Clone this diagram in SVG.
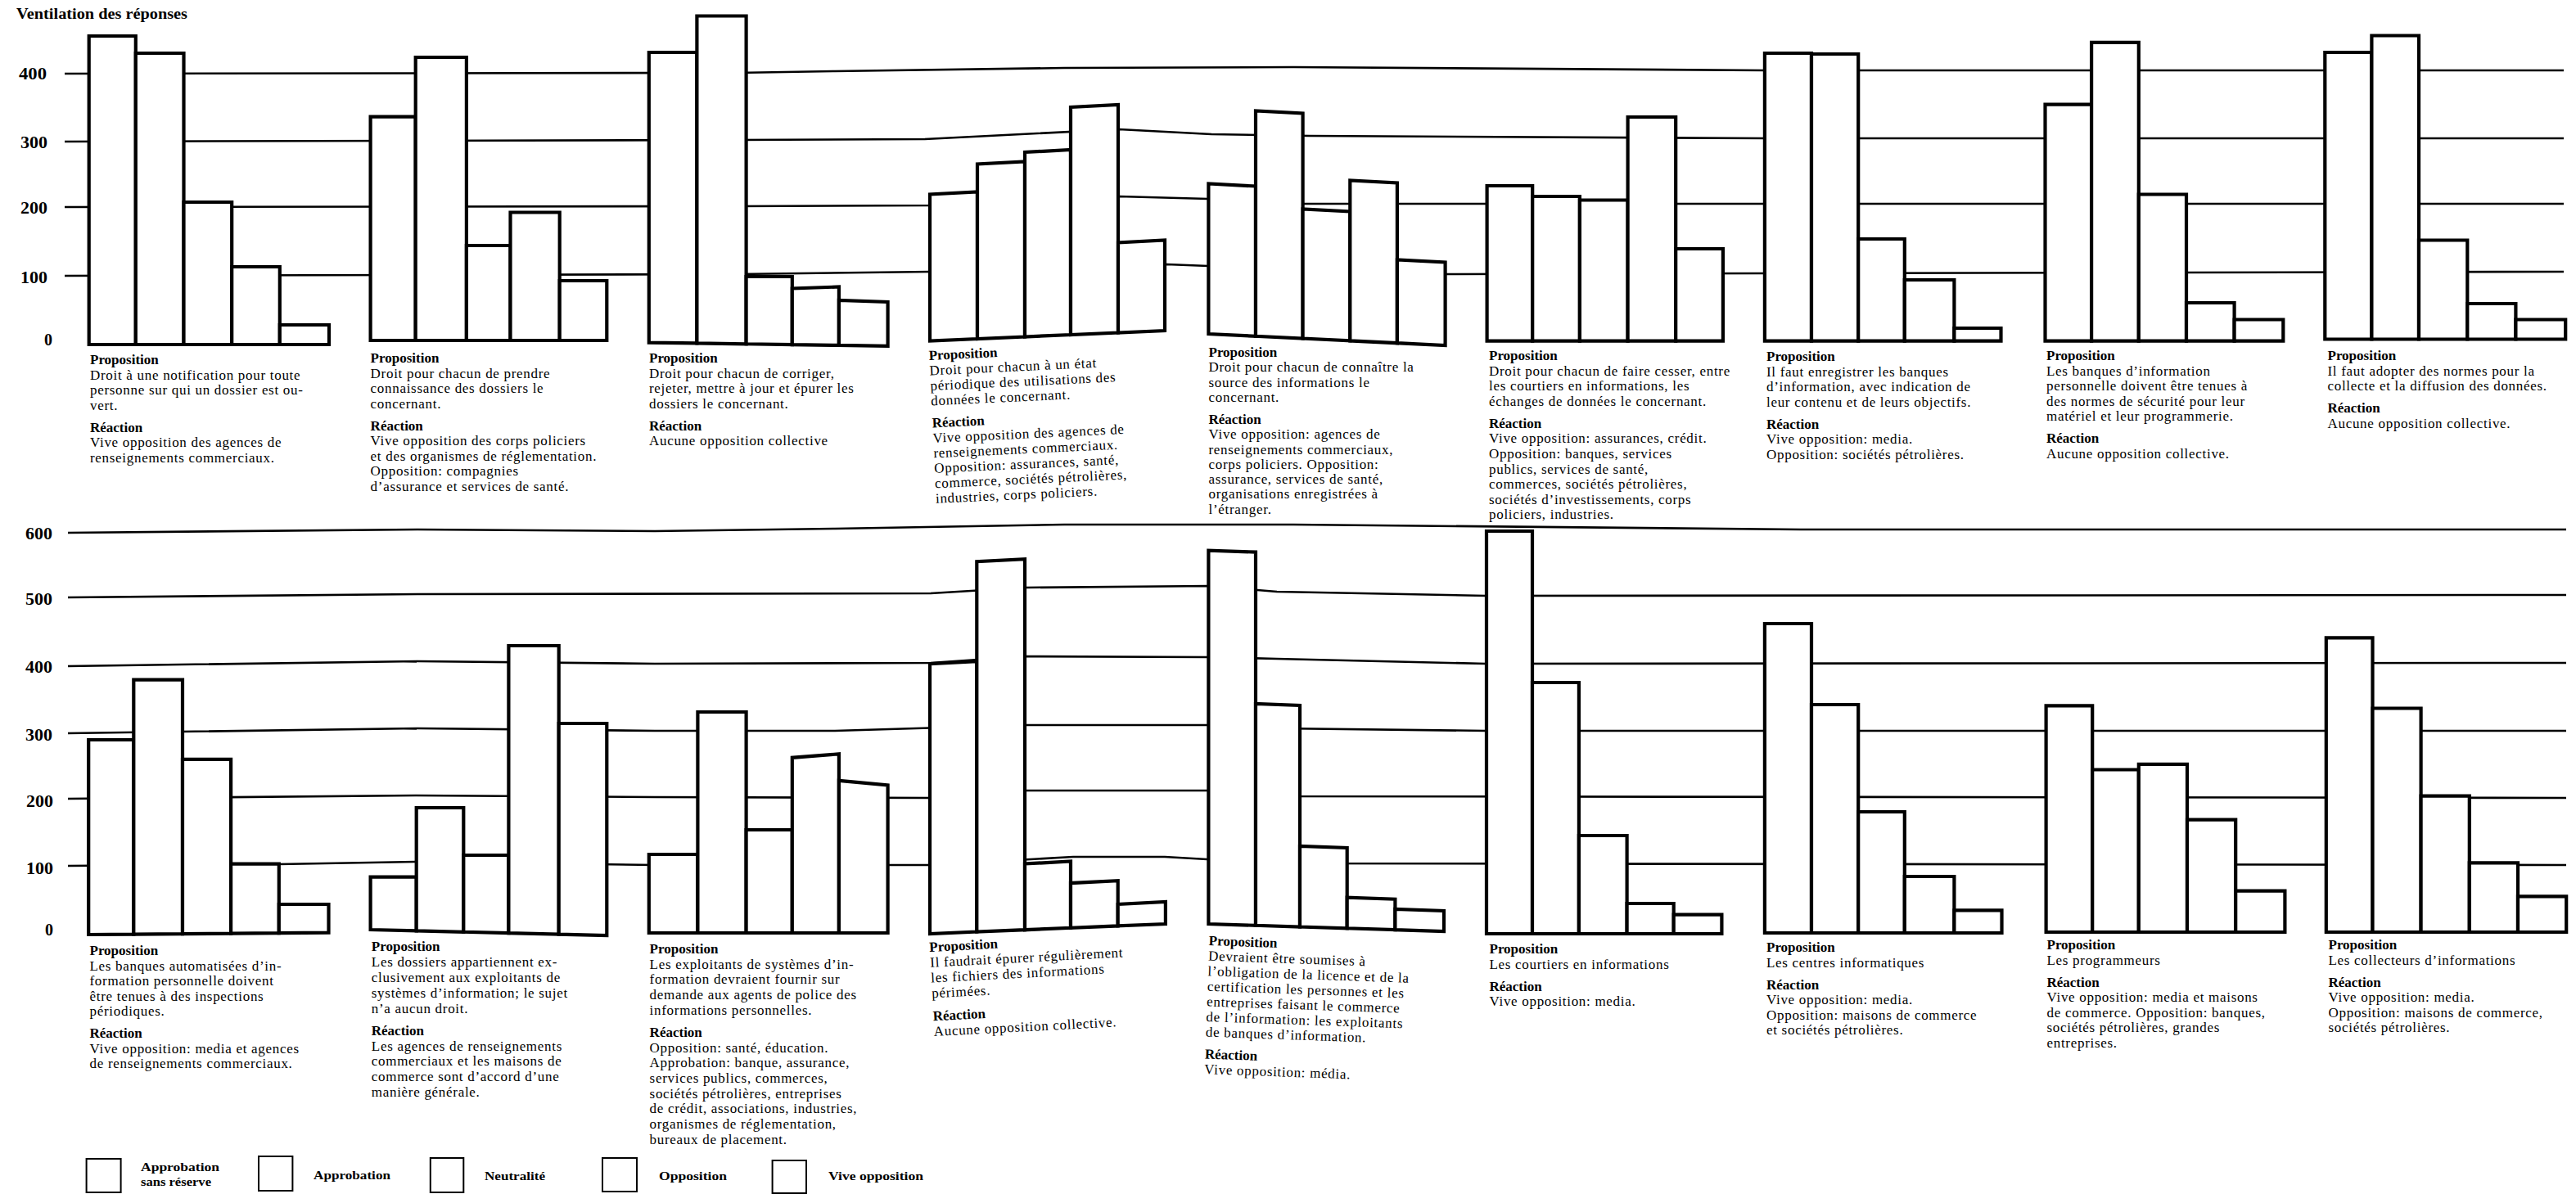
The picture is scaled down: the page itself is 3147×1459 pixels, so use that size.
<svg xmlns="http://www.w3.org/2000/svg" width="3147" height="1459" viewBox="0 0 3147 1459">
<style>
.bar{fill:#fff;stroke:#000;stroke-width:4.2;stroke-linejoin:miter}
.grid{fill:none;stroke:#000;stroke-width:2.6}
.ax{font-family:"Liberation Serif",serif;font-weight:bold;font-size:20px;text-anchor:end}
.ttl{font-family:"Liberation Serif",serif;font-weight:bold;font-size:18px}
.tx{font-family:"Liberation Serif",serif;font-size:17px;letter-spacing:0.7px}
.h{font-weight:bold;letter-spacing:0}
.lg{fill:#fff;stroke:#000;stroke-width:2}
.lt{font-family:"Liberation Serif",serif;font-weight:bold;font-size:15px}
</style>
<rect x="0" y="0" width="3147" height="1459" fill="#fff"/>
<text class="ttl" x="20" y="23" textLength="209" lengthAdjust="spacingAndGlyphs">Ventilation des réponses</text>

<g id="grid">
<path class="grid" d="M79,90 L900,89 L1020,87 L1300,83 L1580,82 L2156,86 L3132,86"/>
<path class="grid" d="M79,173 L900,171 L1130,170 L1367,158 L1480,164 L1600,166 L2156,169 L3132,169"/>
<path class="grid" d="M79,253 L900,252 L1137,251 L1367,240 L1476,243 L1590,249 L3132,249"/>
<path class="grid" d="M79,337 L900,335 L1137,332 L1425,323 L1476,325 L1590,333 L1765,335 L2156,334 L3132,332"/>
<path class="grid" d="M83,651 L510,647 L800,649 L1020,646 L1300,641 L1580,641 L2200,647 L3135,647"/>
<path class="grid" d="M83,730 L510,726 L1137,725 L1252,718 L1476,716 L1560,723 L1815,728 L3135,727"/>
<path class="grid" d="M83,814 L510,808 L800,811 L1137,810 L1252,802 L1476,803 L1560,805 L1815,811 L3135,810"/>
<path class="grid" d="M83,896 L510,890 L800,893 L1020,893 L1252,886 L1476,886 L1560,890 L1815,893 L3135,893"/>
<path class="grid" d="M83,976 L508,972 L800,974 L1137,975 L1252,966 L1476,966 L1560,973 L3135,975"/>
<path class="grid" d="M83,1058 L341,1056 L508,1053 L800,1057 L1137,1057 L1311,1047 L1423,1047 L1560,1055 L3135,1057"/>
</g>

<g id="axis-top">
<text class="ax" x="57" y="97" textLength="34" lengthAdjust="spacingAndGlyphs">400</text>
<text class="ax" x="58" y="181" textLength="33" lengthAdjust="spacingAndGlyphs">300</text>
<text class="ax" x="58" y="261" textLength="33" lengthAdjust="spacingAndGlyphs">200</text>
<text class="ax" x="58" y="346" textLength="33" lengthAdjust="spacingAndGlyphs">100</text>
<text class="ax" x="64" y="422">0</text>
</g>
<g id="axis-bottom">
<text class="ax" x="64" y="659" textLength="33" lengthAdjust="spacingAndGlyphs">600</text>
<text class="ax" x="64" y="739" textLength="33" lengthAdjust="spacingAndGlyphs">500</text>
<text class="ax" x="64" y="822" textLength="33" lengthAdjust="spacingAndGlyphs">400</text>
<text class="ax" x="64" y="905" textLength="33" lengthAdjust="spacingAndGlyphs">300</text>
<text class="ax" x="65" y="986" textLength="33" lengthAdjust="spacingAndGlyphs">200</text>
<text class="ax" x="65" y="1068" textLength="33" lengthAdjust="spacingAndGlyphs">100</text>
<text class="ax" x="65" y="1143">0</text>
</g>

<g id="chart-a1">
<polygon class="bar" points="108.7,421 108.7,44 165.8,44 165.8,421"/>
<polygon class="bar" points="165.8,421 165.8,65 224.5,65 224.5,421"/>
<polygon class="bar" points="224.5,421 224.5,247 283.2,247 283.2,421"/>
<polygon class="bar" points="283.2,421 283.2,326 341.8,326 341.8,421"/>
<polygon class="bar" points="341.8,421 341.8,397 402,397 402,421"/>
<text class="tx" transform="translate(110,445)"><tspan class="h" x="0" y="0">Proposition</tspan><tspan x="0" dy="18.5">Droit à une notification pour toute</tspan><tspan x="0" dy="18.5">personne sur qui un dossier est ou-</tspan><tspan x="0" dy="18.5">vert.</tspan><tspan class="h" x="0" dy="27">Réaction</tspan><tspan x="0" dy="18.5">Vive opposition des agences de</tspan><tspan x="0" dy="18.5">renseignements commerciaux.</tspan></text>
</g>

<g id="chart-a2">
<polygon class="bar" points="452.6,416 452.6,142.7 507.7,142.7 507.7,416"/>
<polygon class="bar" points="507.7,416 507.7,70 569.9,70 569.9,416"/>
<polygon class="bar" points="569.9,416 569.9,300 623.5,300 623.5,416"/>
<polygon class="bar" points="623.5,416 623.5,259.5 683.7,259.5 683.7,416"/>
<polygon class="bar" points="683.7,416 683.7,343 741.3,343 741.3,416"/>
<text class="tx" transform="translate(452.6,443)"><tspan class="h" x="0" y="0">Proposition</tspan><tspan x="0" dy="18.5">Droit pour chacun de prendre</tspan><tspan x="0" dy="18.5">connaissance des dossiers le</tspan><tspan x="0" dy="18.5">concernant.</tspan><tspan class="h" x="0" dy="27">Réaction</tspan><tspan x="0" dy="18.5">Vive opposition des corps policiers</tspan><tspan x="0" dy="18.5">et des organismes de réglementation.</tspan><tspan x="0" dy="18.5">Opposition: compagnies</tspan><tspan x="0" dy="18.5">d’assurance et services de santé.</tspan></text>
</g>

<g id="chart-a3">
<polygon class="bar" points="792.8,418.6 792.8,64 851.4,64 851.4,419.4"/>
<polygon class="bar" points="851.4,419.4 851.4,19.5 911.6,19.5 911.6,420.3"/>
<polygon class="bar" points="911.6,420.3 911.6,338 967.8,338 967.8,421.1"/>
<polygon class="bar" points="967.8,421.1 967.8,352.5 1024.9,350.5 1024.9,421.9"/>
<polygon class="bar" points="1024.9,421.9 1024.9,367 1084.6,369 1084.6,422.8"/>
<text class="tx" transform="translate(793,443)"><tspan class="h" x="0" y="0">Proposition</tspan><tspan x="0" dy="18.5">Droit pour chacun de corriger,</tspan><tspan x="0" dy="18.5">rejeter, mettre à jour et épurer les</tspan><tspan x="0" dy="18.5">dossiers le concernant.</tspan><tspan class="h" x="0" dy="27">Réaction</tspan><tspan x="0" dy="18.5">Aucune opposition collective</tspan></text>
</g>

<g id="chart-a4">
<polygon class="bar" points="1136,416.6 1136,237.5 1194,234.5 1194,414.1"/>
<polygon class="bar" points="1194,414.1 1194,200.5 1252,197.5 1252,411.5"/>
<polygon class="bar" points="1252,411.5 1252,186 1308,183 1308,409"/>
<polygon class="bar" points="1308,409 1308,131 1366,128 1366,406.5"/>
<polygon class="bar" points="1366,406.5 1366,296.5 1423,293.5 1423,404"/>
<text class="tx" transform="translate(1135,440) rotate(-2.7)"><tspan class="h" x="0" y="0">Proposition</tspan><tspan x="0" dy="18.5">Droit pour chacun à un état</tspan><tspan x="0" dy="18.5">périodique des utilisations des</tspan><tspan x="0" dy="18.5">données le concernant.</tspan><tspan class="h" x="0" dy="27">Réaction</tspan><tspan x="0" dy="18.5">Vive opposition des agences de</tspan><tspan x="0" dy="18.5">renseignements commerciaux.</tspan><tspan x="0" dy="18.5">Opposition: assurances, santé,</tspan><tspan x="0" dy="18.5">commerce, sociétés pétrolières,</tspan><tspan x="0" dy="18.5">industries, corps policiers.</tspan></text>
</g>

<g id="chart-a5">
<polygon class="bar" points="1476.4,408 1476.4,224.5 1534,227.5 1534,410.8"/>
<polygon class="bar" points="1534,410.8 1534,135.5 1591.6,138.5 1591.6,413.6"/>
<polygon class="bar" points="1591.6,413.6 1591.6,255.5 1649.3,258.5 1649.3,416.4"/>
<polygon class="bar" points="1649.3,416.4 1649.3,220.5 1706.9,223.5 1706.9,419.2"/>
<polygon class="bar" points="1706.9,419.2 1706.9,317.5 1765.6,320.5 1765.6,422"/>
<text class="tx" transform="translate(1476.5,436)"><tspan class="h" x="0" y="0">Proposition</tspan><tspan x="0" dy="18.3">Droit pour chacun de connaître la</tspan><tspan x="0" dy="18.3">source des informations le</tspan><tspan x="0" dy="18.3">concernant.</tspan><tspan class="h" x="0" dy="27">Réaction</tspan><tspan x="0" dy="18.3">Vive opposition: agences de</tspan><tspan x="0" dy="18.3">renseignements commerciaux,</tspan><tspan x="0" dy="18.3">corps policiers. Opposition:</tspan><tspan x="0" dy="18.3">assurance, services de santé,</tspan><tspan x="0" dy="18.3">organisations enregistrées à</tspan><tspan x="0" dy="18.3">l’étranger.</tspan></text>
</g>

<g id="chart-a6">
<polygon class="bar" points="1816.6,416.6 1816.6,227 1872.2,227 1872.2,416.6"/>
<polygon class="bar" points="1872.2,416.6 1872.2,240 1929.9,240 1929.9,416.6"/>
<polygon class="bar" points="1929.9,416.6 1929.9,244.5 1988.6,244.5 1988.6,416.6"/>
<polygon class="bar" points="1988.6,416.6 1988.6,143 2047.2,143 2047.2,416.6"/>
<polygon class="bar" points="2047.2,416.6 2047.2,304 2104.9,304 2104.9,416.6"/>
<text class="tx" transform="translate(1819,440)"><tspan class="h" x="0" y="0">Proposition</tspan><tspan x="0" dy="18.6">Droit pour chacun de faire cesser, entre</tspan><tspan x="0" dy="18.6">les courtiers en informations, les</tspan><tspan x="0" dy="18.6">échanges de données le concernant.</tspan><tspan class="h" x="0" dy="27">Réaction</tspan><tspan x="0" dy="18.6">Vive opposition: assurances, crédit.</tspan><tspan x="0" dy="18.6">Opposition: banques, services</tspan><tspan x="0" dy="18.6">publics, services de santé,</tspan><tspan x="0" dy="18.6">commerces, sociétés pétrolières,</tspan><tspan x="0" dy="18.6">sociétés d’investissements, corps</tspan><tspan x="0" dy="18.6">policiers, industries.</tspan></text>
</g>

<g id="chart-a7">
<polygon class="bar" points="2155.9,416.6 2155.9,65 2213,65 2213,416.6"/>
<polygon class="bar" points="2213,416.6 2213,66 2270.2,66 2270.2,416.6"/>
<polygon class="bar" points="2270.2,416.6 2270.2,292 2326.8,292 2326.8,416.6"/>
<polygon class="bar" points="2326.8,416.6 2326.8,342 2387.4,342 2387.4,416.6"/>
<polygon class="bar" points="2387.4,416.6 2387.4,401 2444.5,401 2444.5,416.6"/>
<text class="tx" transform="translate(2158,441)"><tspan class="h" x="0" y="0">Proposition</tspan><tspan x="0" dy="18.5">Il faut enregistrer les banques</tspan><tspan x="0" dy="18.5">d’information, avec indication de</tspan><tspan x="0" dy="18.5">leur contenu et de leurs objectifs.</tspan><tspan class="h" x="0" dy="27">Réaction</tspan><tspan x="0" dy="18.5">Vive opposition: media.</tspan><tspan x="0" dy="18.5">Opposition: sociétés pétrolières.</tspan></text>
</g>

<g id="chart-a8">
<polygon class="bar" points="2498.5,416.6 2498.5,127.7 2555.1,127.7 2555.1,416.6"/>
<polygon class="bar" points="2555.1,416.6 2555.1,51.8 2612.8,51.8 2612.8,416.6"/>
<polygon class="bar" points="2612.8,416.6 2612.8,237.5 2671,237.5 2671,416.6"/>
<polygon class="bar" points="2671,416.6 2671,370 2729.6,370 2729.6,416.6"/>
<polygon class="bar" points="2729.6,416.6 2729.6,390.5 2789.3,390.5 2789.3,416.6"/>
<text class="tx" transform="translate(2500,440)"><tspan class="h" x="0" y="0">Proposition</tspan><tspan x="0" dy="18.5">Les banques d’information</tspan><tspan x="0" dy="18.5">personnelle doivent être tenues à</tspan><tspan x="0" dy="18.5">des normes de sécurité pour leur</tspan><tspan x="0" dy="18.5">matériel et leur programmerie.</tspan><tspan class="h" x="0" dy="27">Réaction</tspan><tspan x="0" dy="18.5">Aucune opposition collective.</tspan></text>
</g>

<g id="chart-a9">
<polygon class="bar" points="2840.3,414.5 2840.3,64 2897.4,64 2897.4,414.5"/>
<polygon class="bar" points="2897.4,414.5 2897.4,43.5 2955,43.5 2955,414.5"/>
<polygon class="bar" points="2955,414.5 2955,293.5 3014.3,293.5 3014.3,414.5"/>
<polygon class="bar" points="3014.3,414.5 3014.3,371 3073.4,371 3073.4,414.5"/>
<polygon class="bar" points="3073.4,414.5 3073.4,390.5 3134.2,390.5 3134.2,414.5"/>
<text class="tx" transform="translate(2843.5,440)"><tspan class="h" x="0" y="0">Proposition</tspan><tspan x="0" dy="18.5">Il faut adopter des normes pour la</tspan><tspan x="0" dy="18.5">collecte et la diffusion des données.</tspan><tspan class="h" x="0" dy="27">Réaction</tspan><tspan x="0" dy="18.5">Aucune opposition collective.</tspan></text>
</g>

<g id="chart-b1">
<polygon class="bar" points="108.2,1142 108.2,904 163.3,904 163.3,1141.6"/>
<polygon class="bar" points="163.3,1141.6 163.3,830.7 223,830.7 223,1141.1"/>
<polygon class="bar" points="223,1141.1 223,927.8 282.1,927.8 282.1,1140.6"/>
<polygon class="bar" points="282.1,1140.6 282.1,1055.7 340.8,1055.7 340.8,1140.1"/>
<polygon class="bar" points="340.8,1140.1 340.8,1105 401.5,1105 401.5,1139.6"/>
<text class="tx" transform="translate(109.5,1167)"><tspan class="h" x="0" y="0">Proposition</tspan><tspan x="0" dy="18.5">Les banques automatisées d’in-</tspan><tspan x="0" dy="18.5">formation personnelle doivent</tspan><tspan x="0" dy="18.5">être tenues à des inspections</tspan><tspan x="0" dy="18.5">périodiques.</tspan><tspan class="h" x="0" dy="27">Réaction</tspan><tspan x="0" dy="18.5">Vive opposition: media et agences</tspan><tspan x="0" dy="18.5">de renseignements commerciaux.</tspan></text>
</g>

<g id="chart-b2">
<polygon class="bar" points="452.6,1136 452.6,1071.7 508.7,1071.7 508.7,1137.4"/>
<polygon class="bar" points="508.7,1137.4 508.7,987 566.3,987 566.3,1138.8"/>
<polygon class="bar" points="566.3,1138.8 566.3,1045 621.4,1045 621.4,1140.1"/>
<polygon class="bar" points="621.4,1140.1 621.4,789 682.7,789 682.7,1141.6"/>
<polygon class="bar" points="682.7,1141.6 682.7,884 741.3,884 741.3,1143"/>
<text class="tx" transform="translate(453.8,1162)"><tspan class="h" x="0" y="0">Proposition</tspan><tspan x="0" dy="18.9">Les dossiers appartiennent ex-</tspan><tspan x="0" dy="18.9">clusivement aux exploitants de</tspan><tspan x="0" dy="18.9">systèmes d’information; le sujet</tspan><tspan x="0" dy="18.9">n’a aucun droit.</tspan><tspan class="h" x="0" dy="27">Réaction</tspan><tspan x="0" dy="18.9">Les agences de renseignements</tspan><tspan x="0" dy="18.9">commerciaux et les maisons de</tspan><tspan x="0" dy="18.9">commerce sont d’accord d’une</tspan><tspan x="0" dy="18.9">manière générale.</tspan></text>
</g>

<g id="chart-b3">
<polygon class="bar" points="792.8,1140 792.8,1044 852.4,1044 852.4,1140"/>
<polygon class="bar" points="852.4,1140 852.4,870 911.6,870 911.6,1140"/>
<polygon class="bar" points="911.6,1140 911.6,1014 967.8,1014 967.8,1140"/>
<polygon class="bar" points="967.8,1140 967.8,925.8 1024.9,921.3 1024.9,1140"/>
<polygon class="bar" points="1024.9,1140 1024.9,953.9 1084.6,959.3 1084.6,1140"/>
<text class="tx" transform="translate(793.6,1165)"><tspan class="h" x="0" y="0">Proposition</tspan><tspan x="0" dy="18.7">Les exploitants de systèmes d’in-</tspan><tspan x="0" dy="18.7">formation devraient fournir sur</tspan><tspan x="0" dy="18.7">demande aux agents de police des</tspan><tspan x="0" dy="18.7">informations personnelles.</tspan><tspan class="h" x="0" dy="27">Réaction</tspan><tspan x="0" dy="18.7">Opposition: santé, éducation.</tspan><tspan x="0" dy="18.7">Approbation: banque, assurance,</tspan><tspan x="0" dy="18.7">services publics, commerces,</tspan><tspan x="0" dy="18.7">sociétés pétrolières, entreprises</tspan><tspan x="0" dy="18.7">de crédit, associations, industries,</tspan><tspan x="0" dy="18.7">organismes de réglementation,</tspan><tspan x="0" dy="18.7">bureaux de placement.</tspan></text>
</g>

<g id="chart-b4">
<polygon class="bar" points="1136,1141 1136,811.2 1193.3,808.2 1193.3,1138.6"/>
<polygon class="bar" points="1193.3,1138.6 1193.3,686.2 1252,683.2 1252,1136.2"/>
<polygon class="bar" points="1252,1136.2 1252,1055.5 1308,1052.5 1308,1133.8"/>
<polygon class="bar" points="1308,1133.8 1308,1079.1 1365.7,1076.1 1365.7,1131.4"/>
<polygon class="bar" points="1365.7,1131.4 1365.7,1105 1423.9,1102 1423.9,1129"/>
<text class="tx" transform="translate(1135.6,1163) rotate(-3)"><tspan class="h" x="0" y="0">Proposition</tspan><tspan x="0" dy="18.8">Il faudrait épurer régulièrement</tspan><tspan x="0" dy="18.8">les fichiers des informations</tspan><tspan x="0" dy="18.8">périmées.</tspan><tspan class="h" x="0" dy="28">Réaction</tspan><tspan x="0" dy="18.8">Aucune opposition collective.</tspan></text>
</g>

<g id="chart-b5">
<polygon class="bar" points="1476.4,1129 1476.4,672.6 1534,674.6 1534,1130.8"/>
<polygon class="bar" points="1534,1130.8 1534,860 1588,862 1588,1132.5"/>
<polygon class="bar" points="1588,1132.5 1588,1034 1645.7,1036 1645.7,1134.3"/>
<polygon class="bar" points="1645.7,1134.3 1645.7,1096.7 1704.4,1098.7 1704.4,1136.2"/>
<polygon class="bar" points="1704.4,1136.2 1704.4,1111 1764,1113 1764,1138"/>
<text class="tx" transform="translate(1476.6,1155) rotate(2)"><tspan class="h" x="0" y="0">Proposition</tspan><tspan x="0" dy="18.6">Devraient être soumises à</tspan><tspan x="0" dy="18.6">l’obligation de la licence et de la</tspan><tspan x="0" dy="18.6">certification les personnes et les</tspan><tspan x="0" dy="18.6">entreprises faisant le commerce</tspan><tspan x="0" dy="18.6">de l’information: les exploitants</tspan><tspan x="0" dy="18.6">de banques d’information.</tspan><tspan class="h" x="0" dy="27">Réaction</tspan><tspan x="0" dy="18.6">Vive opposition: média.</tspan></text>
</g>

<g id="chart-b6">
<polygon class="bar" points="1816,1141 1816,649 1872,649 1872,1141"/>
<polygon class="bar" points="1872,1141 1872,834 1928.9,834 1928.9,1141"/>
<polygon class="bar" points="1928.9,1141 1928.9,1021 1987.6,1021 1987.6,1141"/>
<polygon class="bar" points="1987.6,1141 1987.6,1104 2044.7,1104 2044.7,1141"/>
<polygon class="bar" points="2044.7,1141 2044.7,1117.7 2103.4,1117.7 2103.4,1141"/>
<text class="tx" transform="translate(1819.5,1165)"><tspan class="h" x="0" y="0">Proposition</tspan><tspan x="0" dy="18.5">Les courtiers en informations</tspan><tspan class="h" x="0" dy="27">Réaction</tspan><tspan x="0" dy="18.5">Vive opposition: media.</tspan></text>
</g>

<g id="chart-b7">
<polygon class="bar" points="2155.9,1140 2155.9,762 2213,762 2213,1140"/>
<polygon class="bar" points="2213,1140 2213,861 2270.2,861 2270.2,1140"/>
<polygon class="bar" points="2270.2,1140 2270.2,992 2326.8,992 2326.8,1140"/>
<polygon class="bar" points="2326.8,1140 2326.8,1071 2387.4,1071 2387.4,1140"/>
<polygon class="bar" points="2387.4,1140 2387.4,1112.4 2445.5,1112.4 2445.5,1140"/>
<text class="tx" transform="translate(2158,1163)"><tspan class="h" x="0" y="0">Proposition</tspan><tspan x="0" dy="18.5">Les centres informatiques</tspan><tspan class="h" x="0" dy="27">Réaction</tspan><tspan x="0" dy="18.5">Vive opposition: media.</tspan><tspan x="0" dy="18.5">Opposition: maisons de commerce</tspan><tspan x="0" dy="18.5">et sociétés pétrolières.</tspan></text>
</g>

<g id="chart-b8">
<polygon class="bar" points="2499.6,1139 2499.6,862.4 2556.2,862.4 2556.2,1139"/>
<polygon class="bar" points="2556.2,1139 2556.2,940.5 2612.8,940.5 2612.8,1139"/>
<polygon class="bar" points="2612.8,1139 2612.8,933.8 2672,933.8 2672,1139"/>
<polygon class="bar" points="2672,1139 2672,1001.7 2731.2,1001.7 2731.2,1139"/>
<polygon class="bar" points="2731.2,1139 2731.2,1088.7 2791.4,1088.7 2791.4,1139"/>
<text class="tx" transform="translate(2500.5,1160)"><tspan class="h" x="0" y="0">Proposition</tspan><tspan x="0" dy="18.5">Les programmeurs</tspan><tspan class="h" x="0" dy="27">Réaction</tspan><tspan x="0" dy="18.5">Vive opposition: media et maisons</tspan><tspan x="0" dy="18.5">de commerce. Opposition: banques,</tspan><tspan x="0" dy="18.5">sociétés pétrolières, grandes</tspan><tspan x="0" dy="18.5">entreprises.</tspan></text>
</g>

<g id="chart-b9">
<polygon class="bar" points="2841.8,1139 2841.8,779.4 2898.5,779.4 2898.5,1139"/>
<polygon class="bar" points="2898.5,1139 2898.5,865.5 2957.6,865.5 2957.6,1139"/>
<polygon class="bar" points="2957.6,1139 2957.6,972.7 3016.8,972.7 3016.8,1139"/>
<polygon class="bar" points="3016.8,1139 3016.8,1054.3 3076,1054.3 3076,1139"/>
<polygon class="bar" points="3076,1139 3076,1095.4 3135.2,1095.4 3135.2,1139"/>
<text class="tx" transform="translate(2844.5,1160)"><tspan class="h" x="0" y="0">Proposition</tspan><tspan x="0" dy="18.5">Les collecteurs d’informations</tspan><tspan class="h" x="0" dy="27">Réaction</tspan><tspan x="0" dy="18.5">Vive opposition: media.</tspan><tspan x="0" dy="18.5">Opposition: maisons de commerce,</tspan><tspan x="0" dy="18.5">sociétés pétrolières.</tspan></text>
</g>

<g id="legend">
<g id="legend-1"><rect class="lg" x="105.6" y="1416" width="42" height="41"/>
<text class="lt" x="172" y="1431" textLength="96" lengthAdjust="spacingAndGlyphs">Approbation</text>
<text class="lt" x="172" y="1449" textLength="86" lengthAdjust="spacingAndGlyphs">sans réserve</text></g>
<g id="legend-2"><rect class="lg" x="316" y="1413" width="41.4" height="42"/>
<text class="lt" x="383" y="1441" textLength="94" lengthAdjust="spacingAndGlyphs">Approbation</text></g>
<g id="legend-3"><rect class="lg" x="525.8" y="1415" width="40.5" height="42"/>
<text class="lt" x="592" y="1442" textLength="74" lengthAdjust="spacingAndGlyphs">Neutralité</text></g>
<g id="legend-4"><rect class="lg" x="736" y="1415" width="42" height="41"/>
<text class="lt" x="805" y="1442" textLength="83" lengthAdjust="spacingAndGlyphs">Opposition</text></g>
<g id="legend-5"><rect class="lg" x="943.6" y="1418" width="41.4" height="40"/>
<text class="lt" x="1012" y="1442" textLength="116" lengthAdjust="spacingAndGlyphs">Vive opposition</text></g>
</g>
<g id="connectors"/>
</svg>
